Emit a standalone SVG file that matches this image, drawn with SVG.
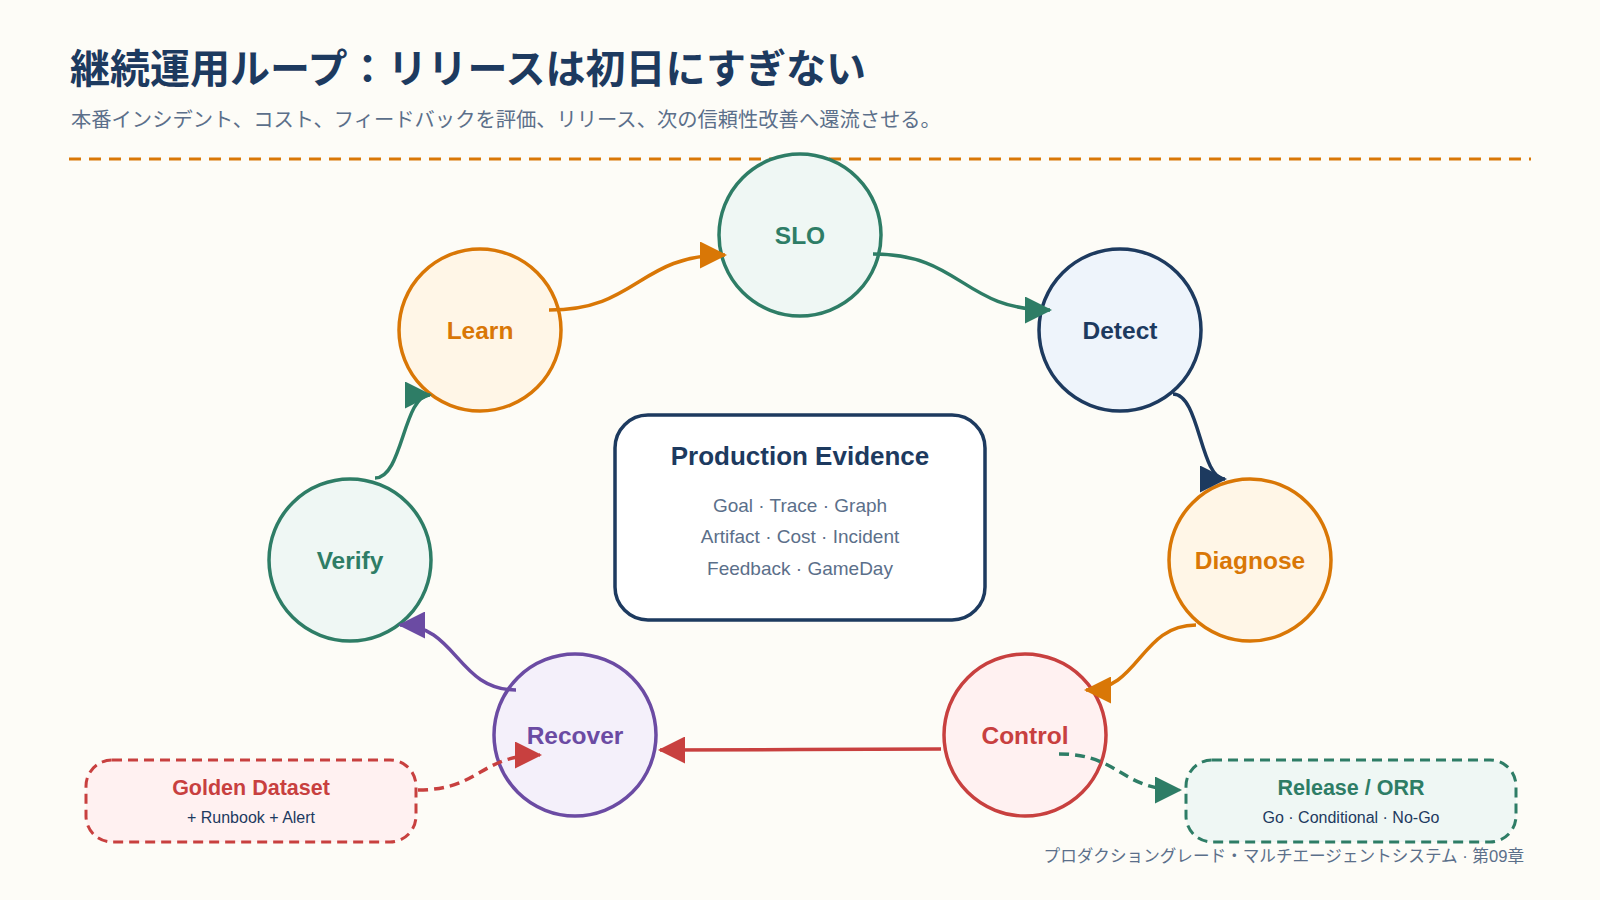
<svg xmlns="http://www.w3.org/2000/svg" width="1600" height="900" viewBox="0 0 1600 900">
  <style>
    .jp { font-family: "Liberation Sans", "Noto Sans CJK JP", sans-serif; }
    .lat { font-family: "Liberation Sans", Arial, sans-serif; }
    .node circle { stroke-width: 3.5; }
    .lbl { font-family: "Liberation Sans", Arial, sans-serif; font-weight: bold; font-size: 24.5px; text-anchor: middle; }
    .conn path { fill: none; stroke-width: 3.5; }
    .dash { stroke-dasharray: 10 6; }
    .sub { fill: #5b6f8a; }
  </style>
  <defs>
    <marker id="mOrange" viewBox="0 0 27 27" markerWidth="27" markerHeight="27" refX="25" refY="13.5" orient="auto" markerUnits="userSpaceOnUse"><path d="M0,0 L27,13.5 L0,27 z" fill="#d97706"/></marker>
    <marker id="mGreen" viewBox="0 0 27 27" markerWidth="27" markerHeight="27" refX="25" refY="13.5" orient="auto" markerUnits="userSpaceOnUse"><path d="M0,0 L27,13.5 L0,27 z" fill="#2e7d66"/></marker>
    <marker id="mNavy" viewBox="0 0 27 27" markerWidth="27" markerHeight="27" refX="25" refY="13.5" orient="auto" markerUnits="userSpaceOnUse"><path d="M0,0 L27,13.5 L0,27 z" fill="#1d3a5f"/></marker>
    <marker id="mRed" viewBox="0 0 27 27" markerWidth="27" markerHeight="27" refX="25" refY="13.5" orient="auto" markerUnits="userSpaceOnUse"><path d="M0,0 L27,13.5 L0,27 z" fill="#c8403f"/></marker>
    <marker id="mPurple" viewBox="0 0 27 27" markerWidth="27" markerHeight="27" refX="25" refY="13.5" orient="auto" markerUnits="userSpaceOnUse"><path d="M0,0 L27,13.5 L0,27 z" fill="#6b4ba3"/></marker>
  </defs>

  <rect x="0" y="0" width="1600" height="900" fill="#fdfcf7"/>

  <g id="header">
    <text class="jp" x="70" y="83" font-size="40" font-weight="bold" fill="#1d3a5f">継続運用ループ：リリースは初日にすぎない</text>
    <text class="jp sub" x="71" y="127" font-size="20.3">本番インシデント、コスト、フィードバックを評価、リリース、次の信頼性改善へ還流させる。</text>
    <line x1="69" y1="159" x2="1531" y2="159" stroke="#d97706" stroke-width="3" stroke-dasharray="12 8"/>
  </g>

  <g id="evidence">
    <rect x="615" y="415" width="370" height="205" rx="33" fill="#ffffff" stroke="#1d3a5f" stroke-width="3.5"/>
    <text class="lat" x="800" y="465" font-size="26" font-weight="bold" fill="#1d3a5f" text-anchor="middle">Production Evidence</text>
    <text class="lat sub" x="800" y="512" font-size="19" text-anchor="middle">Goal · Trace · Graph</text>
    <text class="lat sub" x="800" y="543" font-size="19" text-anchor="middle">Artifact · Cost · Incident</text>
    <text class="lat sub" x="800" y="575" font-size="19" text-anchor="middle">Feedback · GameDay</text>
  </g>

  <g id="node-slo" class="node">
    <circle cx="800" cy="235" r="81" fill="#eff7f4" stroke="#2e7d66"/>
    <text class="lbl" x="800" y="243.5" fill="#2e7d66">SLO</text>
  </g>
  <g id="node-detect" class="node">
    <circle cx="1120" cy="330" r="81" fill="#eef4fb" stroke="#1d3a5f"/>
    <text class="lbl" x="1120" y="338.5" fill="#1d3a5f">Detect</text>
  </g>
  <g id="node-diagnose" class="node">
    <circle cx="1250" cy="560" r="81" fill="#fff6e7" stroke="#d97706"/>
    <text class="lbl" x="1250" y="568.5" fill="#d97706">Diagnose</text>
  </g>
  <g id="node-control" class="node">
    <circle cx="1025" cy="735" r="81" fill="#fff1f1" stroke="#c8403f"/>
    <text class="lbl" x="1025" y="743.5" fill="#c8403f">Control</text>
  </g>
  <g id="node-recover" class="node">
    <circle cx="575" cy="735" r="81" fill="#f4f0fa" stroke="#6b4ba3"/>
    <text class="lbl" x="575" y="743.5" fill="#6b4ba3">Recover</text>
  </g>
  <g id="node-verify" class="node">
    <circle cx="350" cy="560" r="81" fill="#eff7f4" stroke="#2e7d66"/>
    <text class="lbl" x="350" y="568.5" fill="#2e7d66">Verify</text>
  </g>
  <g id="node-learn" class="node">
    <circle cx="480" cy="330" r="81" fill="#fff6e7" stroke="#d97706"/>
    <text class="lbl" x="480" y="338.5" fill="#d97706">Learn</text>
  </g>

  <g id="node-golden">
    <rect x="86" y="760" width="330" height="82" rx="26" fill="#fff1f1" stroke="#c8403f" stroke-width="3" stroke-dasharray="10 6"/>
    <text class="lat" x="251" y="795" font-size="21.5" font-weight="bold" fill="#c8403f" text-anchor="middle">Golden Dataset</text>
    <text class="lat" x="251" y="823" font-size="16" fill="#1d3a5f" text-anchor="middle">+ Runbook + Alert</text>
  </g>
  <g id="node-release">
    <rect x="1186" y="760" width="330" height="82" rx="26" fill="#eff7f4" stroke="#2e7d66" stroke-width="3" stroke-dasharray="10 6"/>
    <text class="lat" x="1351" y="795" font-size="21.5" font-weight="bold" fill="#2e7d66" text-anchor="middle">Release / ORR</text>
    <text class="lat" x="1351" y="823" font-size="16" fill="#1d3a5f" text-anchor="middle">Go · Conditional · No-Go</text>
  </g>

  <g id="connectors" class="conn">
    <path d="M549,310 C638,310 638,255 725,255" stroke="#d97706" marker-end="url(#mOrange)"/>
    <path d="M873,254 C962,254 962,310 1050,310" stroke="#2e7d66" marker-end="url(#mGreen)"/>
    <path d="M1173,394 C1200,394 1200,479 1225,479" stroke="#1d3a5f" marker-end="url(#mNavy)"/>
    <path d="M1196,625 C1140,625 1140,690 1086,690" stroke="#d97706" marker-end="url(#mOrange)"/>
    <path d="M941,749 C800,749 800,750 660,750" stroke="#c8403f" marker-end="url(#mRed)"/>
    <path d="M516,690 C457,690 457,625 400,625" stroke="#6b4ba3" marker-end="url(#mPurple)"/>
    <path d="M375,478 C403,478 403,395 430,395" stroke="#2e7d66" marker-end="url(#mGreen)"/>
    <path class="dash" d="M418,790 C480,790 480,755 540,755" stroke="#c8403f" marker-end="url(#mRed)"/>
    <path class="dash" d="M1059,754 C1120,754 1120,790 1180,790" stroke="#2e7d66" marker-end="url(#mGreen)"/>
  </g>

  <text class="jp sub" x="1524" y="862" font-size="16.6" text-anchor="end">プロダクショングレード・マルチエージェントシステム · 第09章</text>
</svg>
